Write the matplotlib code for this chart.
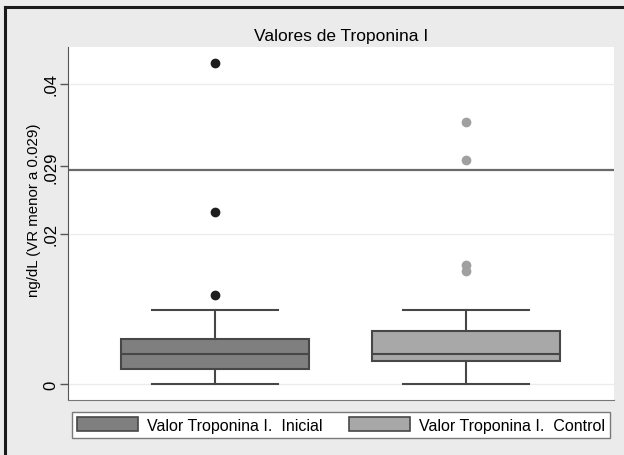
import matplotlib
matplotlib.use("Agg")
import matplotlib.pyplot as plt
from matplotlib.lines import Line2D
from matplotlib.patches import Patch

plt.rcParams["font.family"] = ["Liberation Sans", "DejaVu Sans"]

# data (ng/dL)
labels = ["Valor Troponina I.  Inicial", "Valor Troponina I.  Control"]
q1 = [0.0020, 0.0030]
medians = [0.0040, 0.0040]
q3 = [0.0060, 0.0070]
whisker_low = [0.0, 0.0]
whisker_high = [0.0099, 0.0099]
outliers = [[0.0119, 0.0229, 0.0428], [0.0151, 0.0159, 0.0299, 0.0349]]
ref_value = 0.0285
ytick_vals = [0, 0.02, 0.029, 0.04]
ytick_labels = ["0", ".02", ".029", ".04"]
grid_vals = [0, 0.02, 0.04]

box_colors = ["#7f7f7f", "#a8a8a8"]
flier_colors = ["#1e1e1e", "#a0a0a0"]
line_col = "#474747"

fig = plt.figure(figsize=(6.24, 4.56), dpi=100)
fig.patch.set_facecolor("#ebebeb")
ax = fig.add_axes([68 / 624, 1 - 400.7 / 456, (614 - 68) / 624, (400.7 - 48) / 456])
ax.set_facecolor("white")

for v in grid_vals:
    ax.axhline(v, color="#ececec", lw=1.0, zorder=0)
ax.axhline(ref_value, color="#6a6a6a", lw=1.6, zorder=1)

stats = []
for i in range(2):
    stats.append(dict(med=medians[i], q1=q1[i], q3=q3[i],
                      whislo=whisker_low[i], whishi=whisker_high[i],
                      fliers=outliers[i], label=labels[i]))

for i, st in enumerate(stats):
    ax.bxp([st], positions=[i + 1], widths=0.75, patch_artist=True,
           showfliers=True, manage_ticks=False,
           boxprops=dict(facecolor=box_colors[i], edgecolor=line_col, lw=1.5),
           medianprops=dict(color=line_col, lw=1.5),
           whiskerprops=dict(color=line_col, lw=1.5),
           capprops=dict(color=line_col, lw=1.5),
           capwidths=0.5,
           flierprops=dict(marker="o", markersize=6, markerfacecolor=flier_colors[i],
                           markeredgecolor=flier_colors[i]))

ax.set_xlim(0.414, 2.59)
ax.set_ylim(-0.00209, 0.0449)
ax.set_xticks([])
ax.set_yticks(ytick_vals)
ax.set_yticklabels(ytick_labels, rotation=90, va="center", fontsize=12)
ax.tick_params(axis="y", direction="out", length=6, width=1, color="#555555", pad=1)

for s in ["top", "right"]:
    ax.spines[s].set_visible(False)
ax.spines["left"].set_color("#555555")
ax.spines["bottom"].set_color("#777777")

ax.set_title("Valores de Troponina I", fontsize=12.5, pad=5)
ax.set_ylabel("ng/dL (VR menor a 0.029)", fontsize=10.8)
ax.yaxis.set_label_coords(-0.05, 0.54)

handles = [Patch(facecolor=box_colors[i], edgecolor=line_col, lw=1.2) for i in range(2)]
fig.legend(handles, labels, loc="center", bbox_to_anchor=(341 / 624, 1 - 426 / 456),
           ncol=2, fontsize=11.5, frameon=True, fancybox=False, edgecolor="#7a7a7a",
           facecolor="white", framealpha=1, handlelength=3.8, handleheight=1.0,
           handletextpad=0.55, columnspacing=1.7, borderpad=0.3, borderaxespad=0)

# outer frame (top and left edges visible in the reference)
fig.add_artist(Line2D([5 / 624, 5 / 624], [0, 1 - 8 / 456], transform=fig.transFigure,
                      color="#1a1a1a", lw=2.2))
fig.add_artist(Line2D([5 / 624, 1], [1 - 8 / 456, 1 - 8 / 456], transform=fig.transFigure,
                      color="#1a1a1a", lw=2.2))

fig.savefig("out.png", dpi=100, facecolor=fig.get_facecolor())
